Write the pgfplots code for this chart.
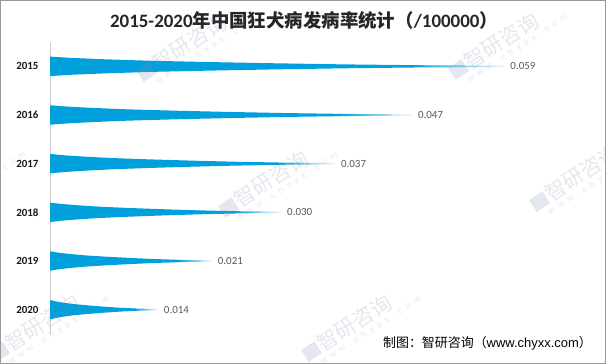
\documentclass[border=0pt]{standalone}
\usepackage{fontspec}
\setmainfont{Carlito}
\newfontfamily\cjk{Noto Sans CJK SC}
\newfontfamily\arial{Liberation Sans}
\usepackage{pgfplots}
\pgfplotsset{compat=1.18}
\definecolor{barblue}{RGB}{0,160,220}
\definecolor{wmcol}{RGB}{120,140,170}
\definecolor{valgray}{RGB}{89,89,89}
\newcommand{\wm}[2]{%
  \node[rotate=33, anchor=south west, inner sep=0pt, text=wmcol, opacity=0.2, align=left]
    at (#1bp,-#2bp) {{\color{wmcol}\rule{16bp}{14bp}}\,{\cjk\fontsize{21}{21}\selectfont 智研咨询}\\[-2bp]
    \hspace*{10bp}{\arial\fontsize{9}{9}\selectfont w\enspace w\enspace w\enspace .\enspace c\enspace h\enspace y\enspace x\enspace x\enspace .\enspace c\enspace o\enspace m}};}
\begin{document}
\begin{tikzpicture}
\fill[white] (0bp,0bp) rectangle (606bp,-364bp);
\useasboundingbox (0bp,0bp) rectangle (606bp,-364bp);
\begin{axis}[
  at={(50bp,-42bp)}, anchor=north west,
  scale only axis, width=550bp, height=292bp,
  xmin=0, xmax=0.07143, ymin=-0.5, ymax=5.5, y dir=reverse,
  axis x line=none, axis y line*=left,
  y axis line style={draw=black!18, line width=0.8bp},
  ytick={0,1,2,3,4,5},
  yticklabels={2015,2016,2017,2018,2019,2020},
  major tick length=0pt,
  yticklabel style={font=\bfseries\fontsize{11}{11}\selectfont, text=black!90, xshift=-8bp},
  clip=false,
]
% 2015
\addplot[fill=barblue, draw=none] coordinates {(0,-0.2) (0.00295,-0.172) (0.00708,-0.145) (0.01298,-0.115) (0.02065,-0.088) (0.0295,-0.062) (0.03835,-0.04) (0.0472,-0.024) (0.0472,0.024) (0.03835,0.04) (0.0295,0.062) (0.02065,0.088) (0.01298,0.115) (0.00708,0.145) (0.00295,0.172) (0,0.2)};
\addplot[draw=none, left color=barblue, right color=barblue!8] coordinates {(0.0470,-0.024) (0.059,-0.012) (0.059,0.012) (0.0470,0.024)};
% 2016
\addplot[fill=barblue, draw=none] coordinates {(0,0.8) (0.00235,0.828) (0.00564,0.855) (0.01034,0.885) (0.01645,0.912) (0.0235,0.938) (0.03055,0.96) (0.0376,0.976) (0.0376,1.024) (0.03055,1.04) (0.0235,1.062) (0.01645,1.088) (0.01034,1.115) (0.00564,1.145) (0.00235,1.172) (0,1.2)};
\addplot[draw=none, left color=barblue, right color=barblue!8] coordinates {(0.0374,0.976) (0.047,0.988) (0.047,1.012) (0.0374,1.024)};
% 2017
\addplot[fill=barblue, draw=none] coordinates {(0,1.8) (0.00185,1.828) (0.00444,1.855) (0.00814,1.885) (0.01295,1.912) (0.0185,1.938) (0.02405,1.96) (0.0296,1.976) (0.0296,2.024) (0.02405,2.04) (0.0185,2.062) (0.01295,2.088) (0.00814,2.115) (0.00444,2.145) (0.00185,2.172) (0,2.2)};
\addplot[draw=none, left color=barblue, right color=barblue!8] coordinates {(0.0294,1.976) (0.037,1.988) (0.037,2.012) (0.0294,2.024)};
% 2018
\addplot[fill=barblue, draw=none] coordinates {(0,2.8) (0.0015,2.828) (0.0036,2.855) (0.0066,2.885) (0.0105,2.912) (0.015,2.938) (0.0195,2.96) (0.024,2.976) (0.024,3.024) (0.0195,3.04) (0.015,3.062) (0.0105,3.088) (0.0066,3.115) (0.0036,3.145) (0.0015,3.172) (0,3.2)};
\addplot[draw=none, left color=barblue, right color=barblue!8] coordinates {(0.0238,2.976) (0.030,2.988) (0.030,3.012) (0.0238,3.024)};
% 2019
\addplot[fill=barblue, draw=none] coordinates {(0,3.8) (0.00105,3.828) (0.00252,3.855) (0.00462,3.885) (0.00735,3.912) (0.0105,3.938) (0.01365,3.96) (0.0168,3.976) (0.0168,4.024) (0.01365,4.04) (0.0105,4.062) (0.00735,4.088) (0.00462,4.115) (0.00252,4.145) (0.00105,4.172) (0,4.2)};
\addplot[draw=none, left color=barblue, right color=barblue!8] coordinates {(0.0166,3.976) (0.021,3.988) (0.021,4.012) (0.0166,4.024)};
% 2020
\addplot[fill=barblue, draw=none] coordinates {(0,4.8) (0.0007,4.828) (0.00168,4.855) (0.00308,4.885) (0.0049,4.912) (0.007,4.938) (0.0091,4.96) (0.0112,4.976) (0.0112,5.024) (0.0091,5.04) (0.007,5.062) (0.0049,5.088) (0.00308,5.115) (0.00168,5.145) (0.0007,5.172) (0,5.2)};
\addplot[draw=none, left color=barblue, right color=barblue!8] coordinates {(0.0110,4.976) (0.014,4.988) (0.014,5.012) (0.0110,5.024)};
% value labels
\addplot[draw=none, mark=none, nodes near coords, point meta=explicit symbolic,
  every node near coord/.style={anchor=west, xshift=5bp, inner sep=1bp, text=valgray, font=\fontsize{11}{11}\selectfont}]
  coordinates {(0.059,0)[0.059] (0.047,1)[0.047] (0.037,2)[0.037] (0.030,3)[0.030] (0.021,4)[0.021] (0.014,5)[0.014]};
\end{axis}
% title
\node[font=\cjk\bfseries\fontsize{18.5}{18.5}\selectfont, text=black!85, inner sep=0pt] at (304bp,-20bp)
  {{\rmfamily\bfseries\fontsize{19}{19}\selectfont 2015-2020}年中国狂犬病发病率统计（{\rmfamily\bfseries\fontsize{19}{19}\selectfont /100000}）};
% footer
\node[anchor=east, inner sep=0pt, font=\cjk\fontsize{13}{13}\selectfont, text=black] at (592bp,-343bp)
  {制图：智研咨询（{\arial www.chyxx.com}）};
% watermarks
\wm{150}{92}
\wm{462}{90}
\wm{-80}{228}
\wm{232}{228}
\wm{543}{222}
\wm{3}{372}
\wm{315}{372}
% border
\draw[black!40, line width=1.2bp] (0.6bp,-0.6bp) rectangle (605.4bp,-363.4bp);
\end{tikzpicture}
\end{document}
